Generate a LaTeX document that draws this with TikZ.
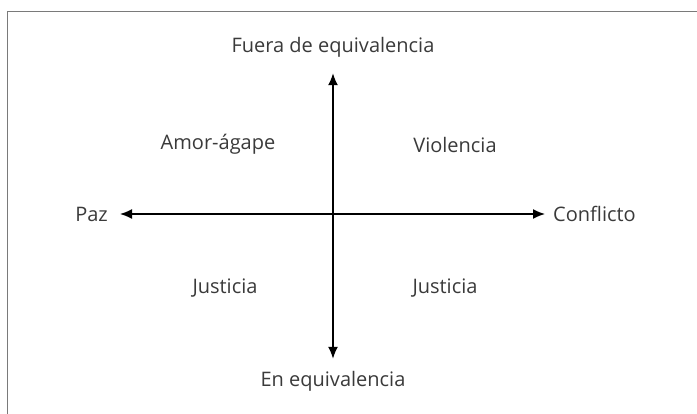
\documentclass[tikz,border=0pt]{standalone}
\usepackage{fontspec}
\setmainfont{Open Sans}
\usetikzlibrary{arrows.meta}
\definecolor{txtgray}{HTML}{3A3A3A}
\definecolor{framegray}{HTML}{7A7A7A}
\tikzset{%
	label/.style = {text=txtgray, font=\fontsize{20}{24}\selectfont, inner sep=0pt},
	axis/.style  = {line width=1.5pt, -{Latex[length=12pt,width=10pt]}}, % Axis arrow
	frame/.style = {draw=framegray, line width=1pt}
}

\begin{document}
\begin{tikzpicture}[x=1pt,y=-1pt]
			\useasboundingbox (0,0) rectangle (697,414);
			\draw[frame] (7,414) -- (7,12) -- (697,12);

			\coordinate (origen) at (333,214);
			\node[label] (fuera)    at (333,47)  {Fuera de equivalencia};
			\node[label] (enequiv)  at (333,381) {En equivalencia};
			\node[label, anchor=east] (paz)       at (108,214) {Paz};
			\node[label, anchor=west] (conflicto) at (553,214) {Conflicto};
			\node[label] (amor)     at (218,144) {Amor-ágape};
			\node[label] (violencia) at (455,145) {Violencia};
			\node[label] (justIzq)  at (225,288) {Justicia};
			\node[label] (justDer)  at (445,288) {Justicia};

			\draw[axis] (origen) -- ([yshift=-16pt]fuera.south);
			\draw[axis] (origen) -- ([yshift=12pt]enequiv.north);
			\draw[axis] (origen) -- ([xshift=12pt]paz.east);
			\draw[axis] (origen) -- ([xshift=-8pt]conflicto.west);
\end{tikzpicture}
\end{document}
